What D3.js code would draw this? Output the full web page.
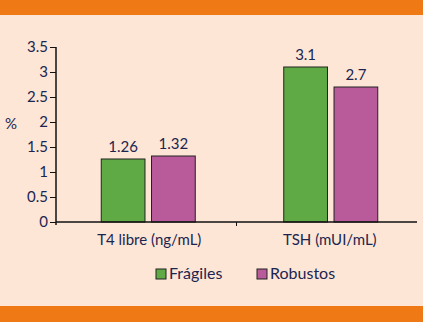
<!DOCTYPE html>
<html>
<head>
<meta charset="utf-8">
<script src="https://cdn.jsdelivr.net/npm/d3@7"></script>
<style>
  body { margin: 0; background: #fde6d6; }
  svg { display: block; font-family: Lato, "Open Sans", sans-serif; }
</style>
</head>
<body>
<script>
const width = 423;
const height = 322;

// datos
const categories = ['T4 libre (ng/mL)', 'TSH (mUI/mL)'];
const series = ['Frágiles', 'Robustos'];
const fragiles = [1.26, 3.1];
const robustos = [1.32, 2.7];
const yTicks = [0, 0.5, 1, 1.5, 2, 2.5, 3, 3.5];
const colors = ['#5faa45', '#b95b9b'];

const textColor = '#1b2550';
const margin = {top: 47, right: 6, bottom: 100, left: 56};

const svg = d3.select('body').append('svg')
    .attr('width', width)
    .attr('height', height);

svg.append('rect').attr('width', width).attr('height', height).attr('fill', '#fde6d6');
svg.append('rect').attr('width', width).attr('height', 15).attr('fill', '#ef7915');
svg.append('rect').attr('y', 306).attr('width', width).attr('height', 16).attr('fill', '#ef7915');

const x0 = d3.scaleBand()
    .domain(categories)
    .range([margin.left, 417]);

const x1 = d3.scaleBand()
    .domain(series)
    .range([0, 94])
    .paddingInner(0.13);

const y = d3.scaleLinear()
    .domain([0, 3.5])
    .range([222, 47]);

const rows = categories.map((c, i) => ({cat: c, vals: [fragiles[i], robustos[i]]}));

const g = svg.selectAll('g.cat')
    .data(rows)
    .enter().append('g')
    .attr('class', 'cat')
    .attr('transform', (d, i) => `translate(${x0(d.cat) + x0.bandwidth() / 2 - 45 + i * 2},0)`);

g.selectAll('rect')
    .data(d => d.vals.map((v, j) => ({s: series[j], v: v, j: j})))
    .enter().append('rect')
    .attr('x', d => x1(d.s))
    .attr('y', d => y(d.v))
    .attr('width', x1.bandwidth())
    .attr('height', d => y(0) - y(d.v))
    .attr('fill', d => colors[d.j])
    .attr('stroke', '#222')
    .attr('stroke-width', 1);

g.selectAll('text.val')
    .data(d => d.vals.map((v, j) => ({s: series[j], v: v})))
    .enter().append('text')
    .attr('class', 'val')
    .attr('x', d => x1(d.s) + x1.bandwidth() / 2)
    .attr('y', d => y(d.v) - 7)
    .attr('text-anchor', 'middle')
    .attr('fill', textColor)
    .style('font-size', '15px')
    .text(d => d.v);

// eje y
const yAxis = svg.append('g')
    .attr('transform', `translate(${margin.left},0)`)
    .call(d3.axisLeft(y).tickValues(yTicks).tickSize(6).tickPadding(2).tickFormat(d3.format('')));
yAxis.select('.domain').attr('stroke', '#111').attr('stroke-width', 1.5).attr('d', `M0,${y(3.5)}V${y(0) + 3}`);
yAxis.selectAll('.tick line').attr('stroke', '#111');
yAxis.selectAll('.tick text').attr('fill', textColor).style('font-size', '15px').style('font-family', 'Lato, sans-serif');

// eje x
const xAxis = svg.append('g')
    .attr('transform', `translate(0,${y(0)})`)
    .call(d3.axisBottom(x0).tickSize(0).tickPadding(12));
xAxis.select('.domain').attr('stroke', '#111').attr('stroke-width', 1.5).attr('d', `M${margin.left},0H417`);
xAxis.selectAll('.tick text')
    .attr('dx', (d, i) => i === 0 ? 3 : 3)
    .attr('fill', textColor).style('font-size', '15px').style('font-family', 'Lato, sans-serif');
xAxis.append('line')
    .attr('x1', x0.range()[0] + x0.step()).attr('x2', x0.range()[0] + x0.step())
    .attr('y1', 0).attr('y2', 4).attr('stroke', '#111');

svg.append('text')
    .attr('x', 5).attr('y', 129)
    .attr('fill', textColor)
    .style('font-size', '15px')
    .text('%');

// leyenda
const legendX = [156, 257];
const legend = svg.selectAll('g.legend')
    .data(series)
    .enter().append('g')
    .attr('class', 'legend')
    .attr('transform', (d, i) => `translate(${legendX[i]},269)`);

legend.append('rect')
    .attr('width', 10).attr('height', 10)
    .attr('fill', (d, i) => colors[i])
    .attr('stroke', '#222');

legend.append('text')
    .attr('x', 13).attr('y', 10)
    .attr('fill', textColor)
    .style('font-size', '16px')
    .text(d => d);
</script>
</body>
</html>
